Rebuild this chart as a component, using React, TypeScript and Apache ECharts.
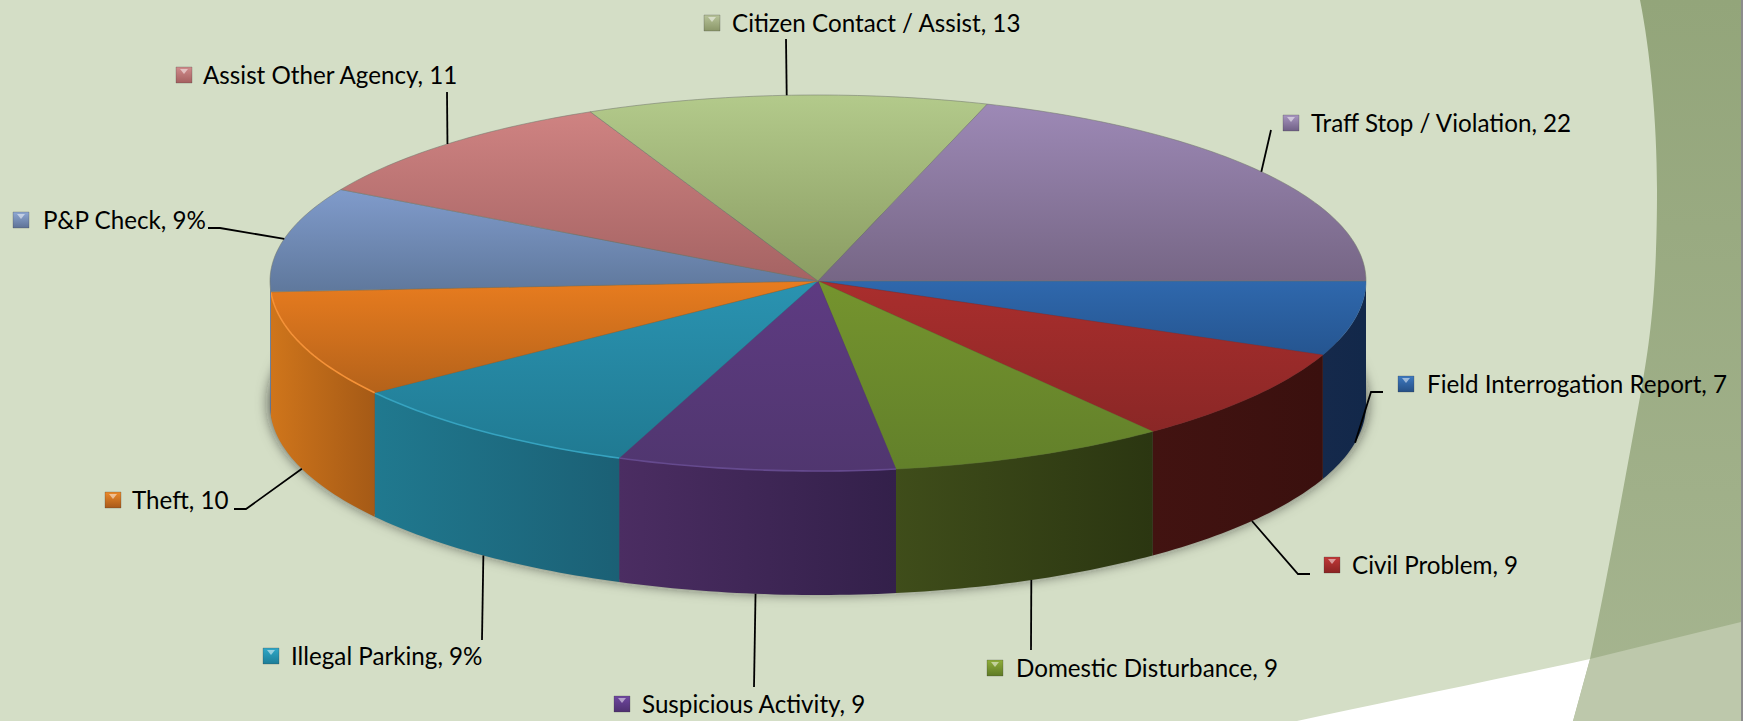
import React, { useEffect, useRef } from "react";
import * as echarts from "echarts";

const categories = ["Field Interrogation Report", "Civil Problem", "Domestic Disturbance", "Suspicious Activity", "Illegal Parking", "Theft", "P&P Check", "Assist Other Agency", "Citizen Contact / Assist", "Traff Stop / Violation"];
const values = [7, 9, 9, 9, 10, 10, 10, 11, 13, 22];
const shownValues = ["7", "9", "9", "9", "9%", "10", "9%", "11", "13", "22"];

const topLight = ["#2f68ad", "#aa2e2d", "#75942e", "#5e3b82", "#2a93b1", "#e87c1f", "#809bcb", "#cf8382", "#b3ca8b", "#9d89b6"];
const topDark = ["#255590", "#8a2726", "#62802a", "#50366f", "#207a92", "#b4621a", "#5f789c", "#a56363", "#8a9c62", "#766685"];
const wallLeft = ["#15294b", "#421311", "#3f4d1a", "#4b2d62", "#20798f", "#cf751b", "#5f789c", "#a56363", "#8a9c62", "#766685"];
const wallRight = ["#12284a", "#3a100e", "#2b3611", "#33204a", "#1b6075", "#a55a16", "#5f789c", "#a56363", "#8a9c62", "#766685"];
const rimColors = ["", "", "", "#654a8e", "#36a3c0", "#f59238", "", "", "", ""];
const markerDark = ["#254f85", "#8a2322", "#5e7a25", "#4e3070", "#1c7d98", "#a8591a", "#5e7296", "#a55f5f", "#8a9668", "#6f5f85"];
const markerLight = ["#3d79c0", "#c23838", "#8fae3a", "#6f47a0", "#30a8c8", "#ec8a2a", "#8ea8d4", "#d08c8c", "#b8c49a", "#a896c0"];

const CX = 818;
const CY = 281;
const RX = 548;
const RY_BACK = 186;
const RY_FRONT = 190;
const DEPTH = 124;

// [marker left, text left, text centre y, leader elbow points from label to the pie]
const labelLayouts: [number, number, number, number[][]][] = [
  [1398, 1427, 383, [[1383, 392], [1371, 392]]],
  [1324, 1352, 564, [[1310, 574], [1298, 574]]],
  [987, 1016, 667, [[1031, 650]]],
  [614, 642, 703, [[754, 687]]],
  [263, 291, 655, [[482, 640]]],
  [105, 132, 499, [[234, 509], [246, 509]]],
  [13, 43, 219, [[208, 228], [220, 228]]],
  [176, 203, 74, [[447, 92]]],
  [704, 732, 22, [[786, 39]]],
  [1283, 1311, 122, [[1271, 130]]],
];

const FONT = "Lato";
const FONT_SIZE = 24.2;

const total = values.reduce((a, b) => a + b, 0);
const startOf = (i: number) => (values.slice(0, i).reduce((a, b) => a + b, 0) / total) * 360;
const px = (deg: number, dy = 0): number[] => {
  const r = (deg * Math.PI) / 180;
  const s = Math.sin(r);
  return [CX + RX * Math.cos(r), CY + (s > 0 ? RY_FRONT : RY_BACK) * s + dy];
};
const arc = (a0: number, a1: number, dy = 0): number[][] => {
  const n = Math.max(2, Math.ceil(Math.abs(a1 - a0)));
  const out: number[][] = [];
  for (let k = 0; k <= n; k++) out.push(px(a0 + ((a1 - a0) * k) / n, dy));
  return out;
};
const vGrad = (a: string, b: string) => ({ type: "linear", x: 0, y: 0, x2: 0, y2: 1, colorStops: [{ offset: 0, color: a }, { offset: 1, color: b }] });
const hGrad = (a: string, b: string) => ({ type: "linear", x: 0, y: 0, x2: 1, y2: 0, colorStops: [{ offset: 0, color: a }, { offset: 1, color: b }] });

function renderSlice(params: any, api: any) {
  const i = params.dataIndex;
  const a0 = startOf(i);
  const a1 = a0 + (api.value(0) / total) * 360;
  const children: any[] = [];
  const w0 = Math.max(a0, 0);
  const w1 = Math.min(a1, 180);
  if (w1 > w0) {
    children.push({
      type: "polygon",
      shape: { points: [...arc(w0, w1), ...arc(w1, w0, DEPTH)] },
      style: { fill: hGrad(wallLeft[i], wallRight[i]) },
    });
  }
  const upper = a0 >= 176;
  children.push({
    type: "polygon",
    shape: { points: [[CX, CY], ...arc(a0, a1)] },
    style: {
      fill: vGrad(topLight[i], topDark[i]),
      stroke: upper ? "rgba(115,120,110,0.55)" : topDark[i],
      lineWidth: upper ? 1 : 0.4,
    },
  });
  if (rimColors[i]) {
    children.push({
      type: "polyline",
      shape: { points: arc(a0, a1) },
      style: { stroke: rimColors[i], lineWidth: 1.6, fill: "none" },
    });
  }
  return { type: "group", children };
}

function renderLabel(params: any, api: any) {
  const i = params.dataIndex;
  const mid = startOf(i) + ((api.value(0) / total) * 360) / 2;
  const [mx, tx, ty, elbow] = labelLayouts[i];
  const bottom = mid > 0 && mid < 180;
  const my = ty - 7;
  return {
    type: "group",
    children: [
      { type: "polyline", shape: { points: [...elbow, px(mid, bottom ? DEPTH : 0)] }, style: { stroke: "#000", lineWidth: 1.8, fill: "none" } },
      { type: "rect", shape: { x: mx, y: my, width: 16, height: 16 }, style: { fill: vGrad(markerLight[i], markerDark[i]), stroke: "rgba(60,60,60,0.25)", lineWidth: 1 } },
      { type: "polygon", shape: { points: [[mx + 4, my + 2], [mx + 12, my + 2], [mx + 8, my + 7]] }, style: { fill: "rgba(255,255,255,0.5)" } },
      {
        type: "text",
        style: {
          text: `${categories[i]}, ${shownValues[i]}`,
          x: tx,
          y: ty,
          fill: "#000",
          fontFamily: FONT,
          fontSize: FONT_SIZE,
          align: "left",
          verticalAlign: "middle",
        },
      },
    ],
  };
}

echarts.graphic.registerShape("bandShape", echarts.graphic.extendPath("M1640,0 C1650,50 1657,120 1657,190 C1657,290 1650,340 1642,386 C1625,480 1605,590 1590,659 L1573,721 L1741,721 L1741,0 Z", {}) as any);
echarts.graphic.registerShape("whiteShape", echarts.graphic.extendPath("M1297,721 C1385,702 1480,683 1590,659 L1573,721 Z", {}) as any);
echarts.graphic.registerShape("overlayShape", echarts.graphic.extendPath("M1590,659 C1640,647 1690,634 1741,622 L1741,721 L1573,721 Z", {}) as any);

export default function App() {
  const ref = useRef<HTMLDivElement>(null);
  useEffect(() => {
    document.body.style.margin = "0";
    document.body.style.background = "#fff";
    const chart = echarts.init(ref.current!, undefined, { renderer: "svg" });
    chart.setOption({
      animation: false,
      backgroundColor: "#ffffff",
      graphic: [
        { type: "rect", z: -10, silent: true, shape: { x: 0, y: 0, width: 1741, height: 721 }, style: { fill: "#d4dec6" } },
        { type: "bandShape", z: -9, silent: true, x: 0, y: 0, style: { fill: { type: "linear", x: 0, y: 0, x2: 0, y2: 1, colorStops: [{ offset: 0, color: "#93a57a" }, { offset: 1, color: "#a6b590" }] } } },
        { type: "whiteShape", z: -8, silent: true, x: 0, y: 0, style: { fill: "#ffffff" } },
        { type: "overlayShape", z: -8, silent: true, x: 0, y: 0, style: { fill: "#bdc8ab" } },
        { type: "rect", z: -7, silent: true, shape: { x: 1741, y: 0, width: 2, height: 721 }, style: { fill: "#8c8c8c" } },
        { type: "ellipse", z: -6, silent: true, shape: { cx: CX, cy: CY + DEPTH - 2, rx: RX, ry: RY_FRONT - 1 }, style: { fill: "#555", shadowBlur: 14, shadowColor: "rgba(30,30,20,0.8)" } },
      ],
      series: [
        { type: "custom", coordinateSystem: "none", silent: true, clip: false, z: 2, data: values.map((v) => [v]), dimensions: ["value"], renderItem: renderSlice },
        { type: "custom", coordinateSystem: "none", silent: true, clip: false, z: 3, data: values.map((v) => [v]), dimensions: ["value"], renderItem: renderLabel },
      ],
    });
    return () => chart.dispose();
  }, []);
  return <div ref={ref} style={{ width: 1754, height: 721 }} />;
}
